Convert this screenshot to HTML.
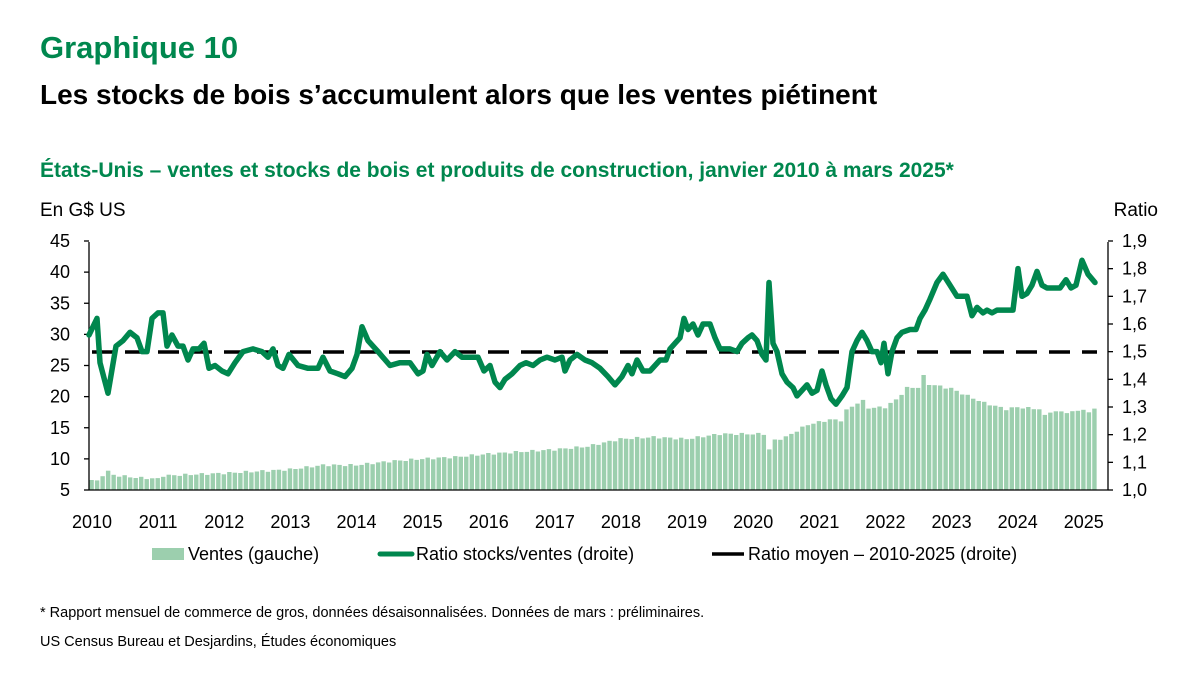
<!DOCTYPE html>
<html><head><meta charset="utf-8"><style>
body{margin:0;background:#fff;width:1200px;height:675px;overflow:hidden;font-family:"Liberation Sans",sans-serif;}
svg{position:absolute;left:0;top:0}
</style></head><body>
<svg id="s" width="1200" height="675" xmlns="http://www.w3.org/2000/svg" font-family="'Liberation Sans',sans-serif">
<text x="40" y="58" font-size="31" font-weight="bold" fill="#00874E">Graphique 10</text>
<text x="40" y="104" font-size="28" font-weight="bold" fill="#000">Les stocks de bois s’accumulent alors que les ventes piétinent</text>
<text x="40" y="177" font-size="21" font-weight="bold" fill="#00874E">États-Unis – ventes et stocks de bois et produits de construction, janvier 2010 à mars 2025*</text>
<text x="40" y="216" font-size="19" fill="#000">En G$ US</text>
<text x="1158" y="216" font-size="19" fill="#000" text-anchor="end">Ratio</text>
<g id="bars" fill="#9ccfae"></g>
<g id="axes" stroke="#000" stroke-width="1.3"></g>
<g id="lab" font-size="18" fill="#000"></g>
<line x1="92" y1="352" x2="1097" y2="352" stroke="#000" stroke-width="3.5" stroke-dasharray="21,12"/>
<polyline id="ln" fill="none" stroke="#00874E" stroke-width="5.5" stroke-linejoin="round" stroke-linecap="round"/>
<rect x="152" y="548" width="32" height="12" fill="#9ccfae"/>
<text x="188" y="560" font-size="18">Ventes (gauche)</text>
<line x1="380" y1="554" x2="412" y2="554" stroke="#00874E" stroke-width="5" stroke-linecap="round"/>
<text x="416" y="560" font-size="18">Ratio stocks/ventes (droite)</text>
<line x1="712" y1="554" x2="744" y2="554" stroke="#000" stroke-width="3.5"/>
<text x="748" y="560" font-size="18">Ratio moyen – 2010-2025 (droite)</text>
<text x="40" y="617" font-size="14.5">* Rapport mensuel de commerce de gros, données désaisonnalisées. Données de mars : préliminaires.</text>
<text x="40" y="646" font-size="14.5">US Census Bureau et Desjardins, Études économiques</text>
</svg>
<script>
var NS="http://www.w3.org/2000/svg";
function el(p,t,a,tx){var e=document.createElementNS(NS,t);for(var k in a)e.setAttribute(k,a[k]);if(tx)e.textContent=tx;p.appendChild(e);return e;}
var X0=89,W=5.51,Y0=490;
var bars=document.getElementById('bars'),ax=document.getElementById('axes'),lab=document.getElementById('lab');
var kp=[[0,6.6],[1,6.4],[2,7.4],[3,8],[4,7.4],[8,7],[12,6.8],[13,7.3],[24,7.7],[36,8.3],[42,9],[48,9],[54,9.6],[60,10],[66,10.3],[72,10.8],[84,11.5],[90,12],[96,13.2],[102,13.5],[108,13.2],[114,14],[120,14],[122,14],[123,11.5],[124,13],[126,13.5],[130,15.5],[134,16.3],[136,16.2],[137,17.8],[139,19],[140,19.3],[141,18.2],[144,18.3],[146,19.5],[148,21.4],[150,21.5],[151,23.3],[152,22],[156,21.3],[158,20.5],[162,19],[166,18],[168,18.3],[172,18],[173,16.9],[174,17.6],[178,17.5],[180,18],[181,17.3],[182,18.2]];
function interp(m){for(var i=0;i<kp.length-1;i++){if(m>=kp[i][0]&&m<=kp[i+1][0]){var t=(m-kp[i][0])/(kp[i+1][0]-kp[i][0]);return kp[i][1]+t*(kp[i+1][1]-kp[i][1]);}}return 18;}
for(var m=0;m<183;m++){var v=interp(m)+Math.sin(m*2.3)*0.18;var h=(v-5)*6.225;el(bars,'rect',{x:(X0+m*W+0.4).toFixed(2),y:(Y0-h).toFixed(1),width:(W-1.1).toFixed(2),height:h.toFixed(1)});}
el(ax,'line',{x1:89,y1:242,x2:89,y2:490});el(ax,'line',{x1:1108,y1:242,x2:1108,y2:490});el(ax,'line',{x1:89,y1:490,x2:1108,y2:490});
for(var i=0;i<=8;i++){var y=490-i*31.125;el(ax,'line',{x1:84,y1:y,x2:89,y2:y});
el(lab,'text',{x:70,y:y+6,'text-anchor':'end'},String(5+i*5));}
for(var i=0;i<=9;i++){var y=490-i*27.667;el(ax,'line',{x1:1108,y1:y,x2:1113,y2:y});el(lab,'text',{x:1122,y:y+6},'1,'+i);}
for(var yr=0;yr<=15;yr++){el(lab,'text',{x:X0+yr*12*W+3,y:528,'text-anchor':'middle'},String(2010+yr));}
var pts=[[89,1.56],[97,1.62],[100,1.46],[108,1.35],[116,1.52],[123,1.54],[130,1.57],[137,1.55],[142,1.50],[147,1.50],[152,1.62],[158,1.64],[163,1.64],[167,1.52],[172,1.56],[178,1.52],[183,1.52],[188,1.47],[193,1.51],[199,1.51],[204,1.53],[209,1.44],[215,1.45],[222,1.43],[228,1.42],[235,1.46],[243,1.50],[253,1.51],[262,1.50],[268,1.48],[273,1.51],[278,1.45],[283,1.44],[289,1.49],[298,1.45],[308,1.44],[318,1.44],[323,1.48],[330,1.43],[338,1.42],[345,1.41],[352,1.44],[357,1.49],[362,1.59],[368,1.54],[378,1.50],[390,1.45],[400,1.46],[410,1.46],[418,1.42],[423,1.43],[427,1.49],[432,1.45],[440,1.50],[447,1.47],[455,1.50],[462,1.48],[470,1.48],[478,1.48],[484,1.43],[490,1.45],[495,1.39],[500,1.37],[505,1.40],[512,1.42],[520,1.45],[526,1.46],[533,1.45],[540,1.47],[547,1.48],[555,1.47],[562,1.48],[565,1.43],[570,1.47],[577,1.49],[585,1.47],[592,1.46],[600,1.44],[608,1.41],[615,1.38],[622,1.41],[628,1.45],[632,1.42],[637,1.47],[643,1.43],[650,1.43],[655,1.45],[660,1.47],[666,1.47],[670,1.51],[675,1.53],[680,1.55],[684,1.62],[688,1.58],[693,1.60],[698,1.56],[703,1.60],[710,1.60],[715,1.55],[720,1.51],[730,1.51],[737,1.50],[742,1.53],[748,1.55],[752,1.56],[757,1.54],[762,1.49],[766,1.47],[769,1.75],[773,1.53],[777,1.50],[782,1.42],[787,1.39],[793,1.37],[797,1.34],[802,1.36],[807,1.38],[812,1.35],[817,1.36],[822,1.43],[826,1.38],[831,1.33],[836,1.31],[842,1.34],[847,1.37],[852,1.50],[857,1.54],[862,1.57],[867,1.54],[872,1.50],[877,1.50],[881,1.46],[884,1.53],[888,1.42],[892,1.50],[897,1.55],[902,1.57],[910,1.58],[916,1.58],[920,1.62],[925,1.65],[930,1.69],[937,1.75],[943,1.78],[950,1.74],[957,1.70],[967,1.70],[972,1.63],[977,1.66],[983,1.64],[987,1.65],[992,1.64],[997,1.65],[1005,1.65],[1013,1.65],[1018,1.80],[1022,1.70],[1027,1.71],[1032,1.74],[1037,1.79],[1042,1.74],[1047,1.73],[1060,1.73],[1066,1.76],[1071,1.73],[1076,1.74],[1082,1.83],[1088,1.78],[1095,1.75]];
document.getElementById('ln').setAttribute('points',pts.map(function(p){return p[0]+','+(490-(p[1]-1)*276.7).toFixed(1);}).join(' '));
</script>
</body></html>
